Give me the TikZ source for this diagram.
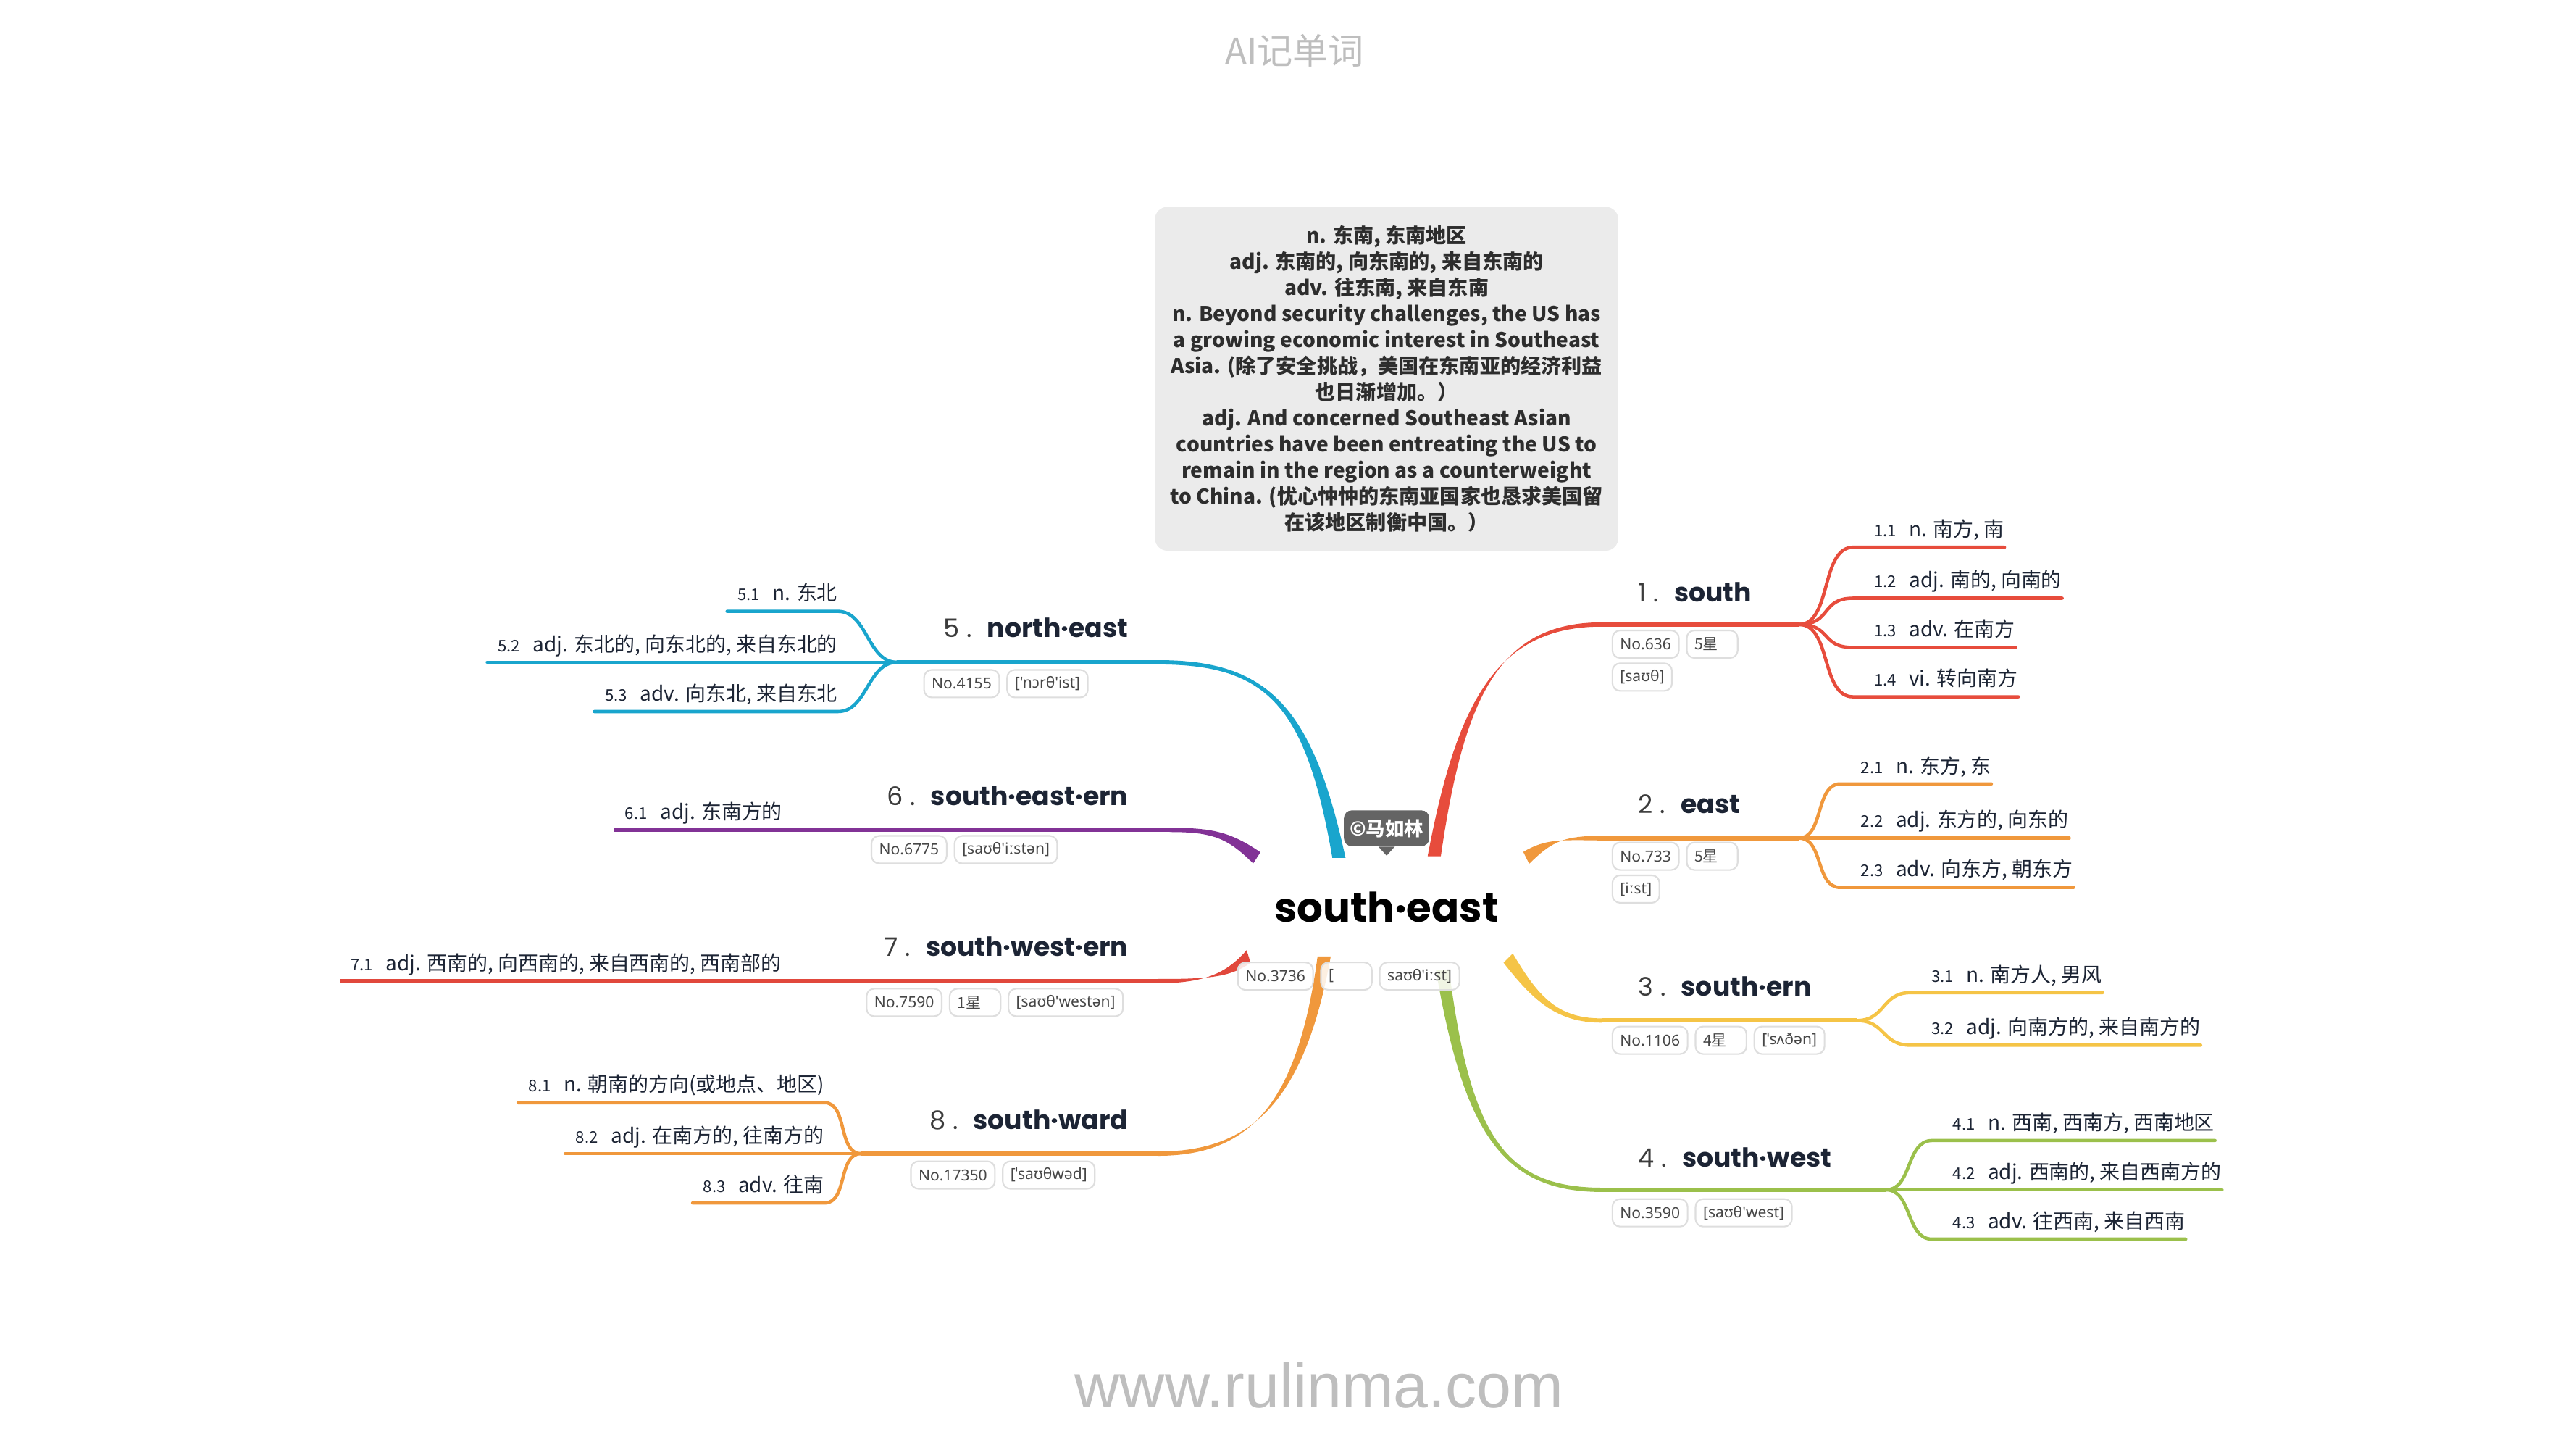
\documentclass[tikz,border=0pt]{standalone}
\usepackage{fontspec}
\setmainfont{Noto Sans CJK SC}
\newfontfamily\pop{Poppins}
\newfontfamily\ipa{Noto Sans}
\newfontfamily\lib{Liberation Sans}
\usetikzlibrary{calc,positioning}

\definecolor{cRed}{RGB}{231,76,60}
\definecolor{cOra}{RGB}{240,152,60}
\definecolor{cYel}{RGB}{245,196,70}
\definecolor{cGrn}{RGB}{155,192,75}
\definecolor{cBlu}{RGB}{25,165,205}
\definecolor{cPur}{RGB}{130,50,150}
\definecolor{cRed2}{RGB}{225,72,60}
\definecolor{txt}{RGB}{28,36,52}
\definecolor{numc}{RGB}{60,60,60}
\definecolor{tagb}{RGB}{222,222,222}
\definecolor{tagt}{RGB}{70,70,70}
\definecolor{boxc}{RGB}{235,235,235}
\definecolor{boxt}{RGB}{45,45,45}
\definecolor{bub}{RGB}{100,100,100}
\definecolor{grayt}{RGB}{190,190,190}

\newcommand{\mmsubfont}{\fontsize{7.95}{10}\selectfont}
\newcommand{\mmnum}{\fontsize{6.3}{7}\selectfont}
\newcommand{\mmR}[2]{\hspace{8pt}{\mmnum #1}\hspace{5pt}#2\hspace{4pt}}
\newcommand{\mmL}[2]{\hspace{4pt}{\mmnum #1}\hspace{5pt}#2\hspace{4pt}}
\newcommand{\mmH}[2]{{\fontsize{10}{12}\selectfont\pop\color{numc}#1\;.}\hspace{6pt}{\fontsize{10.3}{12}\selectfont\pop\bfseries #2}}
\newcommand{\cj}[1]{\makebox[14pt][l]{\rmfamily #1}}
\newcommand{\taper}[6]{%
  \fill[#1] ($(#2)+(#6)$) .. controls ($(#3)+0.5*(#6)$) and ($(#4)+(0,-1.3)$) .. ($(#5)+(0,-1.3)$)
   -- ($(#5)+(0,1.3)$) .. controls ($(#4)+(0,1.3)$) and ($(#3)-0.5*(#6)$) .. ($(#2)-(#6)$) -- cycle;}

\tikzset{
  x=0.02268cm, y=-0.02268cm,
  subline/.style={line width=1.3pt, line cap=round},
  headline/.style={line width=1.7pt},
  subR/.style={anchor=south west, inner xsep=0pt, inner ysep=2pt, text depth=2pt, font=\mmsubfont, text=txt},
  subL/.style={anchor=south east, inner xsep=0pt, inner ysep=2pt, text depth=2pt, font=\mmsubfont, text=txt},
  headR/.style={anchor=base west, inner sep=0pt, text=txt},
  headL/.style={anchor=base east, inner sep=0pt, text=txt},
  tag/.style={draw=tagb, fill=white, fill opacity=0.85, text opacity=1, rounded corners=3pt, line width=0.6pt,
    inner xsep=3pt, inner ysep=0pt, minimum height=10.8pt, font=\fontsize{6}{7}\selectfont\ipa, text=tagt, anchor=west},
}

\begin{document}
\begin{tikzpicture}
\fill[white] (0,0) rectangle (1568,882);
\useasboundingbox (0,0) rectangle (1568,882);

% title and footer
\node[text=grayt, font=\fontsize{14}{16}\selectfont] (title) at (788,31) {AI记单词};
\node[text=grayt, font=\fontsize{24.5}{28}\selectfont\lib] (foot) at (803,843) {www.rulinma.com};

% definition box
\node[fill=boxc, rounded corners=5pt, align=center, minimum width=182pt, minimum height=135pt,
  font=\fontsize{8}{10.26}\selectfont\bfseries, text=boxt] (box) at (844,230.5)
  {n. 东南, 东南地区\\
   adj. 东南的, 向东南的, 来自东南的\\
   adv. 往东南, 来自东南\\
   n. Beyond security challenges, the US has\\
   a growing economic interest in Southeast\\
   Asia. (除了安全挑战，美国在东南亚的经济利益\\
   也日渐增加。）\\
   adj. And concerned Southeast Asian\\
   countries have been entreating the US to\\
   remain in the region as a counterweight\\
   to China. (忧心忡忡的东南亚国家也恳求美国留\\
   在该地区制衡中国。）};

% coordinates of branches
\coordinate (r1) at (873,521); \coordinate (k1a) at (889,425); \coordinate (k1b) at (912,380); \coordinate (e1) at (975,380); \coordinate (f1) at (1095,380);
\coordinate (r2) at (929,522); \coordinate (k2a) at (942,512); \coordinate (k2b) at (950,510); \coordinate (e2) at (972,510); \coordinate (f2) at (1095,510);
\coordinate (r3) at (918,583); \coordinate (k3a) at (935,608); \coordinate (k3b) at (948,621); \coordinate (e3) at (975,621); \coordinate (f3) at (1130,621);
\coordinate (r4) at (878,590); \coordinate (k4a) at (893,690); \coordinate (k4b) at (915,724); \coordinate (e4) at (975,724); \coordinate (f4) at (1148,724);
\coordinate (r5) at (815,522); \coordinate (k5a) at (797,430); \coordinate (k5b) at (772,403); \coordinate (e5) at (705,403); \coordinate (f5) at (546,403);
\coordinate (r6) at (765,522); \coordinate (k6a) at (748,508); \coordinate (k6b) at (738,505); \coordinate (e6) at (712,505);
\coordinate (r7) at (760,582); \coordinate (k7a) at (748,593); \coordinate (k7b) at (735,597); \coordinate (e7) at (705,597);
\coordinate (r8) at (806,582); \coordinate (k8a) at (792,670); \coordinate (k8b) at (762,702); \coordinate (e8) at (705,702); \coordinate (f8) at (524,702);

% tapered main branches
\taper{cRed}{r1}{k1a}{k1b}{e1}{4,0}
\taper{cOra}{r2}{k2a}{k2b}{e2}{1.8,3.6}
\taper{cYel}{r3}{k3a}{k3b}{e3}{2.8,-2.8}
\taper{cGrn}{r4}{k4a}{k4b}{e4}{4,0}
\taper{cBlu}{r5}{k5a}{k5b}{e5}{4,0}
\taper{cPur}{r6}{k6a}{k6b}{e6}{2.2,-3.4}
\taper{cRed2}{r7}{k7a}{k7b}{e7}{1.2,3.8}
\taper{cOra}{r8}{k8a}{k8b}{e8}{4,0}

% central node
\node[inner sep=2pt, font=\fontsize{16}{18}\selectfont\pop\bfseries, text=black] (C) at (844,552) {south·east};
\node[fill=bub, rounded corners=3pt, text=white, font=\fontsize{7.5}{9}\selectfont\bfseries,
  minimum width=33.5pt, minimum height=14pt, inner sep=1pt] (cp) at (844,504) {©马如林};
\fill[bub] ($(cp.south)+(-5,0)$) -- ($(cp.south)+(5,0)$) -- ($(cp.south)+(0,5.5)$) -- cycle;

% headings
\node[headR] (h1) at (997,366) {\mmH{1}{south}};
\node[headR] (h2) at (997,495) {\mmH{2}{east}};
\node[headR] (h3) at (997,606) {\mmH{3}{south·ern}};
\node[headR] (h4) at (997,710) {\mmH{4}{south·west}};
\node[headL] (h5) at (687,388) {\mmH{5}{north·east}};
\node[headL] (h6) at (687,490) {\mmH{6}{south·east·ern}};
\node[headL] (h7) at (687,582) {\mmH{7}{south·west·ern}};
\node[headL] (h8) at (687,687) {\mmH{8}{south·ward}};

% heading underlines
\draw[headline, cRed] (e1) -- (f1);
\draw[headline, cOra] (e2) -- (f2);
\draw[headline, cYel] (e3) -- (f3);
\draw[headline, cGrn] (e4) -- (f4);
\draw[headline, cBlu] (e5) -- (f5);
\draw[headline, cOra] (e8) -- (f8);

% sub items, branch 1
\node[subR] (s11) at (1128,333) {\mmR{1.1}{n. 南方, 南}};
\node[subR] (s12) at (1128,364) {\mmR{1.2}{adj. 南的, 向南的}};
\node[subR] (s13) at (1128,394) {\mmR{1.3}{adv. 在南方}};
\node[subR] (s14) at (1128,424) {\mmR{1.4}{vi. 转向南方}};
\foreach \s in {s11,s12,s13,s14}
  \draw[subline, cRed] (f1) .. controls +(20,0) and +(-20,0) .. (\s.south west) -- (\s.south east);

% branch 2
\node[subR] (s21) at (1120,477) {\mmR{2.1}{n. 东方, 东}};
\node[subR] (s22) at (1120,510) {\mmR{2.2}{adj. 东方的, 向东的}};
\node[subR] (s23) at (1120,540) {\mmR{2.3}{adv. 向东方, 朝东方}};
\draw[subline, cOra] (f2) .. controls +(15,0) and +(-15,0) .. (s21.south west) -- (s21.south east);
\draw[subline, cOra] (f2) -- (s22.south east);
\draw[subline, cOra] (f2) .. controls +(15,0) and +(-15,0) .. (s23.south west) -- (s23.south east);

% branch 3
\node[subR] (s31) at (1163,604) {\mmR{3.1}{n. 南方人, 男风}};
\node[subR] (s32) at (1163,636) {\mmR{3.2}{adj. 向南方的, 来自南方的}};
\foreach \s in {s31,s32}
  \draw[subline, cYel] (f3) .. controls +(18,0) and +(-18,0) .. (\s.south west) -- (\s.south east);

% branch 4
\node[subR] (s41) at (1176,694) {\mmR{4.1}{n. 西南, 西南方, 西南地区}};
\node[subR] (s42) at (1176,724) {\mmR{4.2}{adj. 西南的, 来自西南方的}};
\node[subR] (s43) at (1176,754) {\mmR{4.3}{adv. 往西南, 来自西南}};
\draw[subline, cGrn] (f4) .. controls +(16,0) and +(-16,0) .. (s41.south west) -- (s41.south east);
\draw[subline, cGrn] (f4) -- (s42.south east);
\draw[subline, cGrn] (f4) .. controls +(16,0) and +(-16,0) .. (s43.south west) -- (s43.south east);

% branch 5
\node[subL] (s51) at (510,372) {\mmL{5.1}{n. 东北}};
\node[subL] (s52) at (510,403) {\mmL{5.2}{adj. 东北的, 向东北的, 来自东北的}};
\node[subL] (s53) at (510,433) {\mmL{5.3}{adv. 向东北, 来自东北}};
\draw[subline, cBlu] (f5) .. controls +(-18,0) and +(18,0) .. (s51.south east) -- (s51.south west);
\draw[subline, cBlu] (f5) -- (s52.south west);
\draw[subline, cBlu] (f5) .. controls +(-18,0) and +(18,0) .. (s53.south east) -- (s53.south west);

% branch 6
\node[subR] (s61) at (374,505) {\mmL{6.1}{adj. 东南方的}};
\draw[headline, cPur] (e6) -- (s61.south west);

% branch 7
\node[subR] (s71) at (207,597) {\mmL{7.1}{adj. 西南的, 向西南的, 来自西南的, 西南部的}};
\draw[headline, cRed2] (e7) -- (s71.south west);

% branch 8
\node[subL] (s81) at (502,671) {\mmL{8.1}{n. 朝南的方向(或地点、地区)}};
\node[subL] (s82) at (502,702) {\mmL{8.2}{adj. 在南方的, 往南方的}};
\node[subL] (s83) at (502,732) {\mmL{8.3}{adv. 往南}};
\draw[subline, cOra] (f8) .. controls +(-14,0) and +(14,0) .. (s81.south east) -- (s81.south west);
\draw[subline, cOra] (f8) -- (s82.south west);
\draw[subline, cOra] (f8) .. controls +(-14,0) and +(14,0) .. (s83.south east) -- (s83.south west);

% tags
\node[tag] (t0a) at (753,594) {No.3736};
\node[tag, right=2.5pt of t0a] (t0b) {\makebox[14pt][l]{[}};
\node[tag, right=2.5pt of t0b] (t0c) {saʊθ'iːst]};

\node[tag] (t1a) at (981,392) {No.636};
\node[tag, right=2.5pt of t1a] (t1b) {\cj{5星}};
\node[tag] (t1c) at (981,412) {[saʊθ]};

\node[tag] (t2a) at (981,521) {No.733};
\node[tag, right=2.5pt of t2a] (t2b) {\cj{5星}};
\node[tag] (t2c) at (981,541) {[iːst]};

\node[tag] (t3a) at (981,633) {No.1106};
\node[tag, right=2.5pt of t3a] (t3b) {\cj{4星}};
\node[tag, right=2.5pt of t3b] (t3c) {[ˈsʌðən]};

\node[tag] (t4a) at (981,738) {No.3590};
\node[tag, right=2.5pt of t4a] (t4b) {[saʊθ'west]};

\node[tag] (t5a) at (562,416) {No.4155};
\node[tag, right=2.5pt of t5a] (t5b) {['nɔrθ'ist]};

\node[tag] (t6a) at (530,517) {No.6775};
\node[tag, right=2.5pt of t6a] (t6b) {[saʊθ'iːstən]};

\node[tag] (t7a) at (527,610) {No.7590};
\node[tag, right=2.5pt of t7a] (t7b) {\cj{1星}};
\node[tag, right=2.5pt of t7b] (t7c) {[saʊθ'westən]};

\node[tag] (t8a) at (554,715) {No.17350};
\node[tag, right=2.5pt of t8a] (t8b) {[ˈsaʊθwəd]};
\end{tikzpicture}
\end{document}
